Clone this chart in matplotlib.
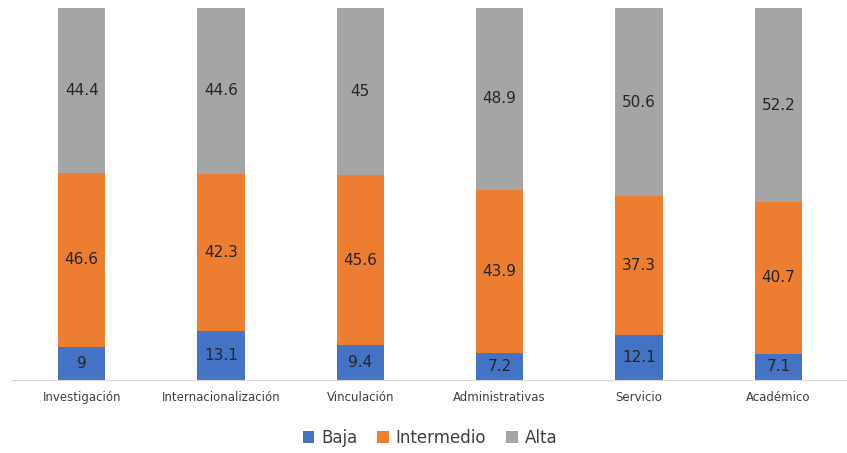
import numpy as np
import matplotlib.pyplot as plt

categorias = ["Investigación", "Internacionalización", "Vinculación",
              "Administrativas", "Servicio", "Académico"]
baja = [9, 13.1, 9.4, 7.2, 12.1, 7.1]
intermedio = [46.6, 42.3, 45.6, 43.9, 37.3, 40.7]
alta = [44.4, 44.6, 45, 48.9, 50.6, 52.2]

colores = ["#4472C4", "#ED7D31", "#A5A5A5"]
series = [("Baja", baja), ("Intermedio", intermedio), ("Alta", alta)]

fig = plt.figure(figsize=(8.47, 4.53), dpi=100)
ax = fig.add_axes([12/847, 73/453, 836/847, 372/453])

x = np.arange(len(categorias))
bottom = np.zeros(len(categorias))
for (nombre, vals), c in zip(series, colores):
    vals = np.array(vals)
    bars = ax.bar(x, vals, 0.34, bottom=bottom, color=c, label=nombre)
    for xi, b, v in zip(x, bottom, vals):
        txt = ("%g" % v)
        ax.text(xi, b + v / 2, txt, ha="center", va="center",
                fontsize=11, color="#262626")
    bottom += vals

ax.set_xlim(-0.5, 5.5)
ax.set_ylim(0, 100)
ax.set_yticks([])
ax.set_xticks(x)
ax.set_xticklabels(categorias, fontsize=8.5, color="#404040")
ax.tick_params(axis="x", length=0, pad=8)
for s in ["top", "right", "left"]:
    ax.spines[s].set_visible(False)
ax.spines["bottom"].set_color("#D9D9D9")

ax.legend(loc="center", bbox_to_anchor=(0.5, -0.155), ncol=3, frameon=False,
          fontsize=12, handlelength=0.7, handleheight=0.7, columnspacing=1.2,
          handletextpad=0.4, labelcolor="#404040")

fig.savefig("out.png", dpi=100)
